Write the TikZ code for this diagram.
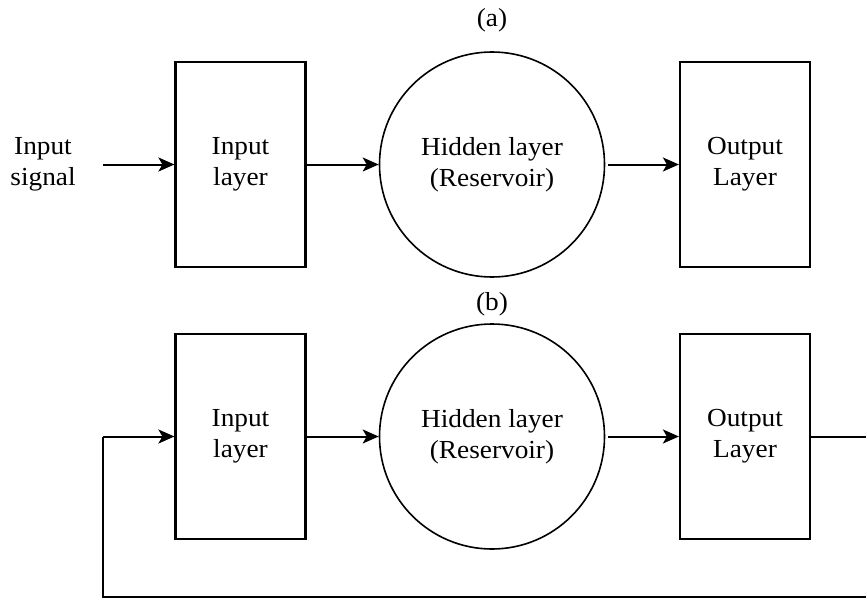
\documentclass[tikz,border=0pt]{standalone}
\usepackage{fontspec}
\setmainfont[FakeStretch=1.05]{Liberation Serif}
\usetikzlibrary{arrows.meta}
\begin{document}
\begin{tikzpicture}[x=1pt,y=-1pt,
  every node/.style={font=\fontsize{26}{31}\selectfont, align=center, inner sep=0pt},
  layerbox/.style={draw, line width=2.2pt, minimum width=130pt, minimum height=205pt},
  reservoir/.style={draw, circle, line width=1.6pt, minimum size=225pt},
  conn/.style={line width=2pt, -{Stealth[length=16pt,width=14pt,inset=4pt]}},
  fbline/.style={line width=2pt, line join=miter}
]
\useasboundingbox (0,0) rectangle (866,599);
\fill[white] (0,0) rectangle (866,599);
\clip (0,0) rectangle (866,599);

% panel (a)
\node (la) at (492,20) {(a)};
\node (sig) at (43,164) {Input\\signal};
\coordinate (sigend) at (103,164.5);
\node[layerbox] (inA) at (240.5,164.5) {Input\\layer};
\node[reservoir] (hidA) at (492,164.5) {Hidden layer\\(Reservoir)};
\node[layerbox] (outA) at (745,164.5) {Output\\Layer};
\draw[conn] (sigend) -- (inA.west);
\draw[conn] (inA.east) -- (hidA.west);
\draw[conn] ([xshift=3pt]hidA.east) -- (outA.west);

% panel (b)
\node (lb) at (492,304) {(b)};
\node[layerbox] (inB) at (240.5,436.5) {Input\\layer};
\node[reservoir] (hidB) at (492,436.5) {Hidden layer\\(Reservoir)};
\node[layerbox] (outB) at (745,436.5) {Output\\Layer};
\draw[conn] (inB.east) -- (hidB.west);
\draw[conn] ([xshift=3pt]hidB.east) -- (outB.west);
\coordinate (fbR) at (885,436.5);
\coordinate (fbRB) at (885,597);
\coordinate (fbLB) at (103,597);
\coordinate (fbL) at (103,436.5);
\draw[fbline] (outB.east) -- (fbR) -- (fbRB) -- (fbLB) -- (fbL);
\draw[conn] (fbL) -- (inB.west);
\end{tikzpicture}
\end{document}
